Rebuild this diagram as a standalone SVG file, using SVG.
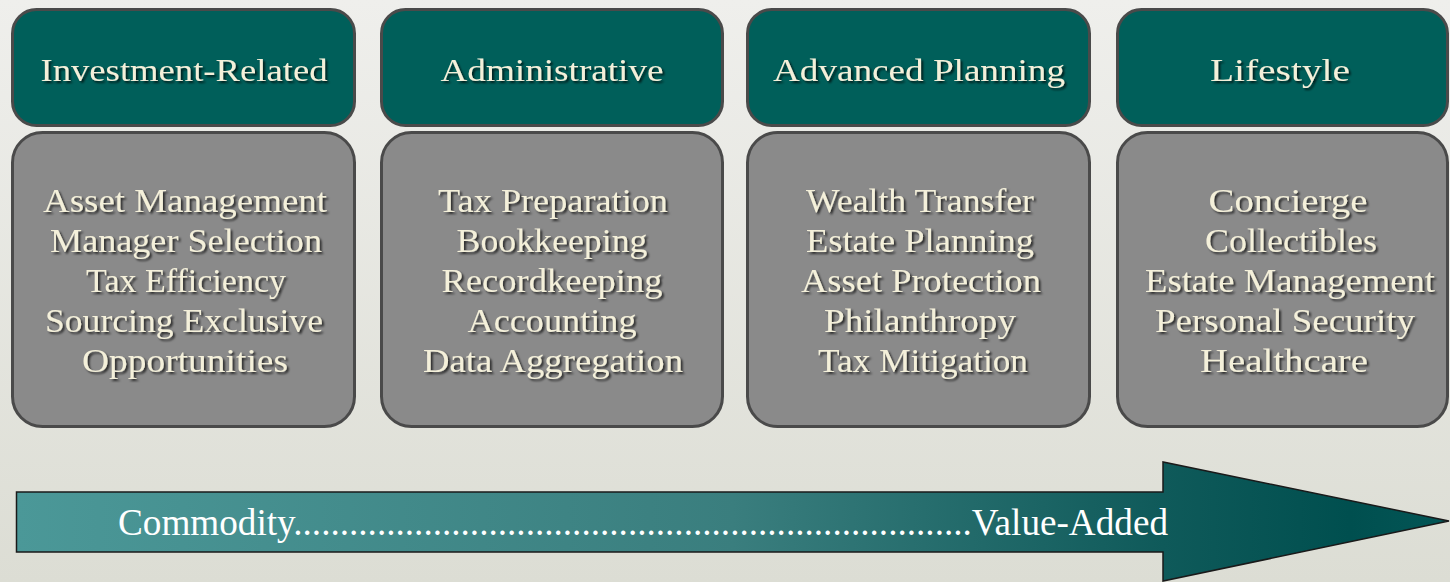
<svg xmlns="http://www.w3.org/2000/svg" width="1450" height="582" viewBox="0 0 1450 582">
<defs>
<linearGradient id="bg" x1="0" y1="0" x2="0" y2="1">
<stop offset="0" stop-color="#efefec"/>
<stop offset="1" stop-color="#dcddd4"/>
</linearGradient>
<linearGradient id="arrowFill" gradientUnits="userSpaceOnUse" x1="16" y1="0" x2="1450" y2="0">
<stop offset="0" stop-color="#4b9898"/>
<stop offset="0.5" stop-color="#3a7e7e"/>
<stop offset="0.8" stop-color="#0f5a5a"/>
<stop offset="0.93" stop-color="#004f4f"/>
<stop offset="1" stop-color="#035656"/>
</linearGradient>
<filter id="shadow" x="-10%" y="-30%" width="120%" height="160%">
<feDropShadow dx="2" dy="2" stdDeviation="1.3" flood-color="#000" flood-opacity="0.7"/>
</filter>
</defs>
<style>
.head{fill:#005f5a;stroke:#4a4a4a;stroke-width:3}
.body{fill:#8a8a8a;stroke:#4a4a4a;stroke-width:3}
.ht{font-family:"Liberation Serif","Times New Roman",serif;font-size:32px;fill:#f4f0da;text-anchor:middle;filter:url(#shadow)}
.bt{font-family:"Liberation Serif","Times New Roman",serif;font-size:33px;fill:#f4f0da;text-anchor:middle;filter:url(#shadow)}
.at{font-family:"Liberation Serif","Times New Roman",serif;font-size:37px;fill:#ffffff}
</style>
<rect width="1450" height="582" fill="url(#bg)"/>

<g id="col1">
<rect class="head" x="12.5" y="9.5" width="342" height="116" rx="24"/>
<text class="ht" x="184" y="81" textLength="287" lengthAdjust="spacingAndGlyphs">Investment-Related</text>
<rect class="body" x="12.5" y="132.5" width="342" height="294" rx="30"/>
<text class="bt" x="185" y="212" textLength="284" lengthAdjust="spacingAndGlyphs">Asset Management</text>
<text class="bt" x="186" y="252" textLength="272" lengthAdjust="spacingAndGlyphs">Manager Selection</text>
<text class="bt" x="186" y="292" textLength="200" lengthAdjust="spacingAndGlyphs">Tax Efficiency</text>
<text class="bt" x="184" y="332" textLength="278" lengthAdjust="spacingAndGlyphs">Sourcing Exclusive</text>
<text class="bt" x="185" y="372" textLength="206" lengthAdjust="spacingAndGlyphs">Opportunities</text>
</g>

<g id="col2">
<rect class="head" x="381.5" y="9.5" width="341" height="116" rx="24"/>
<text class="ht" x="552" y="81" textLength="223" lengthAdjust="spacingAndGlyphs">Administrative</text>
<rect class="body" x="381.5" y="132.5" width="341" height="294" rx="30"/>
<text class="bt" x="553" y="212" textLength="230" lengthAdjust="spacingAndGlyphs">Tax Preparation</text>
<text class="bt" x="552" y="252" textLength="191" lengthAdjust="spacingAndGlyphs">Bookkeeping</text>
<text class="bt" x="552" y="292" textLength="221" lengthAdjust="spacingAndGlyphs">Recordkeeping</text>
<text class="bt" x="552" y="332" textLength="169" lengthAdjust="spacingAndGlyphs">Accounting</text>
<text class="bt" x="553" y="372" textLength="260" lengthAdjust="spacingAndGlyphs">Data Aggregation</text>
</g>

<g id="col3">
<rect class="head" x="747.5" y="9.5" width="342" height="116" rx="24"/>
<text class="ht" x="919" y="81" textLength="292" lengthAdjust="spacingAndGlyphs">Advanced Planning</text>
<rect class="body" x="747.5" y="132.5" width="342" height="294" rx="30"/>
<text class="bt" x="920" y="212" textLength="228" lengthAdjust="spacingAndGlyphs">Wealth Transfer</text>
<text class="bt" x="920" y="252" textLength="228" lengthAdjust="spacingAndGlyphs">Estate Planning</text>
<text class="bt" x="921" y="292" textLength="240" lengthAdjust="spacingAndGlyphs">Asset Protection</text>
<text class="bt" x="920" y="332" textLength="192" lengthAdjust="spacingAndGlyphs">Philanthropy</text>
<text class="bt" x="923" y="372" textLength="210" lengthAdjust="spacingAndGlyphs">Tax Mitigation</text>
</g>

<g id="col4">
<rect class="head" x="1117.5" y="9.5" width="330" height="116" rx="24"/>
<text class="ht" x="1280" y="81" textLength="140" lengthAdjust="spacingAndGlyphs">Lifestyle</text>
<rect class="body" x="1117.5" y="132.5" width="330" height="294" rx="30"/>
<text class="bt" x="1288" y="212" textLength="159" lengthAdjust="spacingAndGlyphs">Concierge</text>
<text class="bt" x="1291" y="252" textLength="172" lengthAdjust="spacingAndGlyphs">Collectibles</text>
<text class="bt" x="1290" y="292" textLength="290" lengthAdjust="spacingAndGlyphs">Estate Management</text>
<text class="bt" x="1285" y="332" textLength="260" lengthAdjust="spacingAndGlyphs">Personal Security</text>
<text class="bt" x="1284" y="372" textLength="168" lengthAdjust="spacingAndGlyphs">Healthcare</text>
</g>

<g id="connectors">
<path d="M16.5,492 H1163 V462 L1449,521 L1163,581 V552 H16.5 Z" fill="url(#arrowFill)" stroke="#1a1a1a" stroke-width="1.5" stroke-linejoin="miter"/>
<text class="at" x="118" y="535" textLength="1050" lengthAdjust="spacingAndGlyphs">Commodity.........................................................................Value-Added</text>
</g>
</svg>
